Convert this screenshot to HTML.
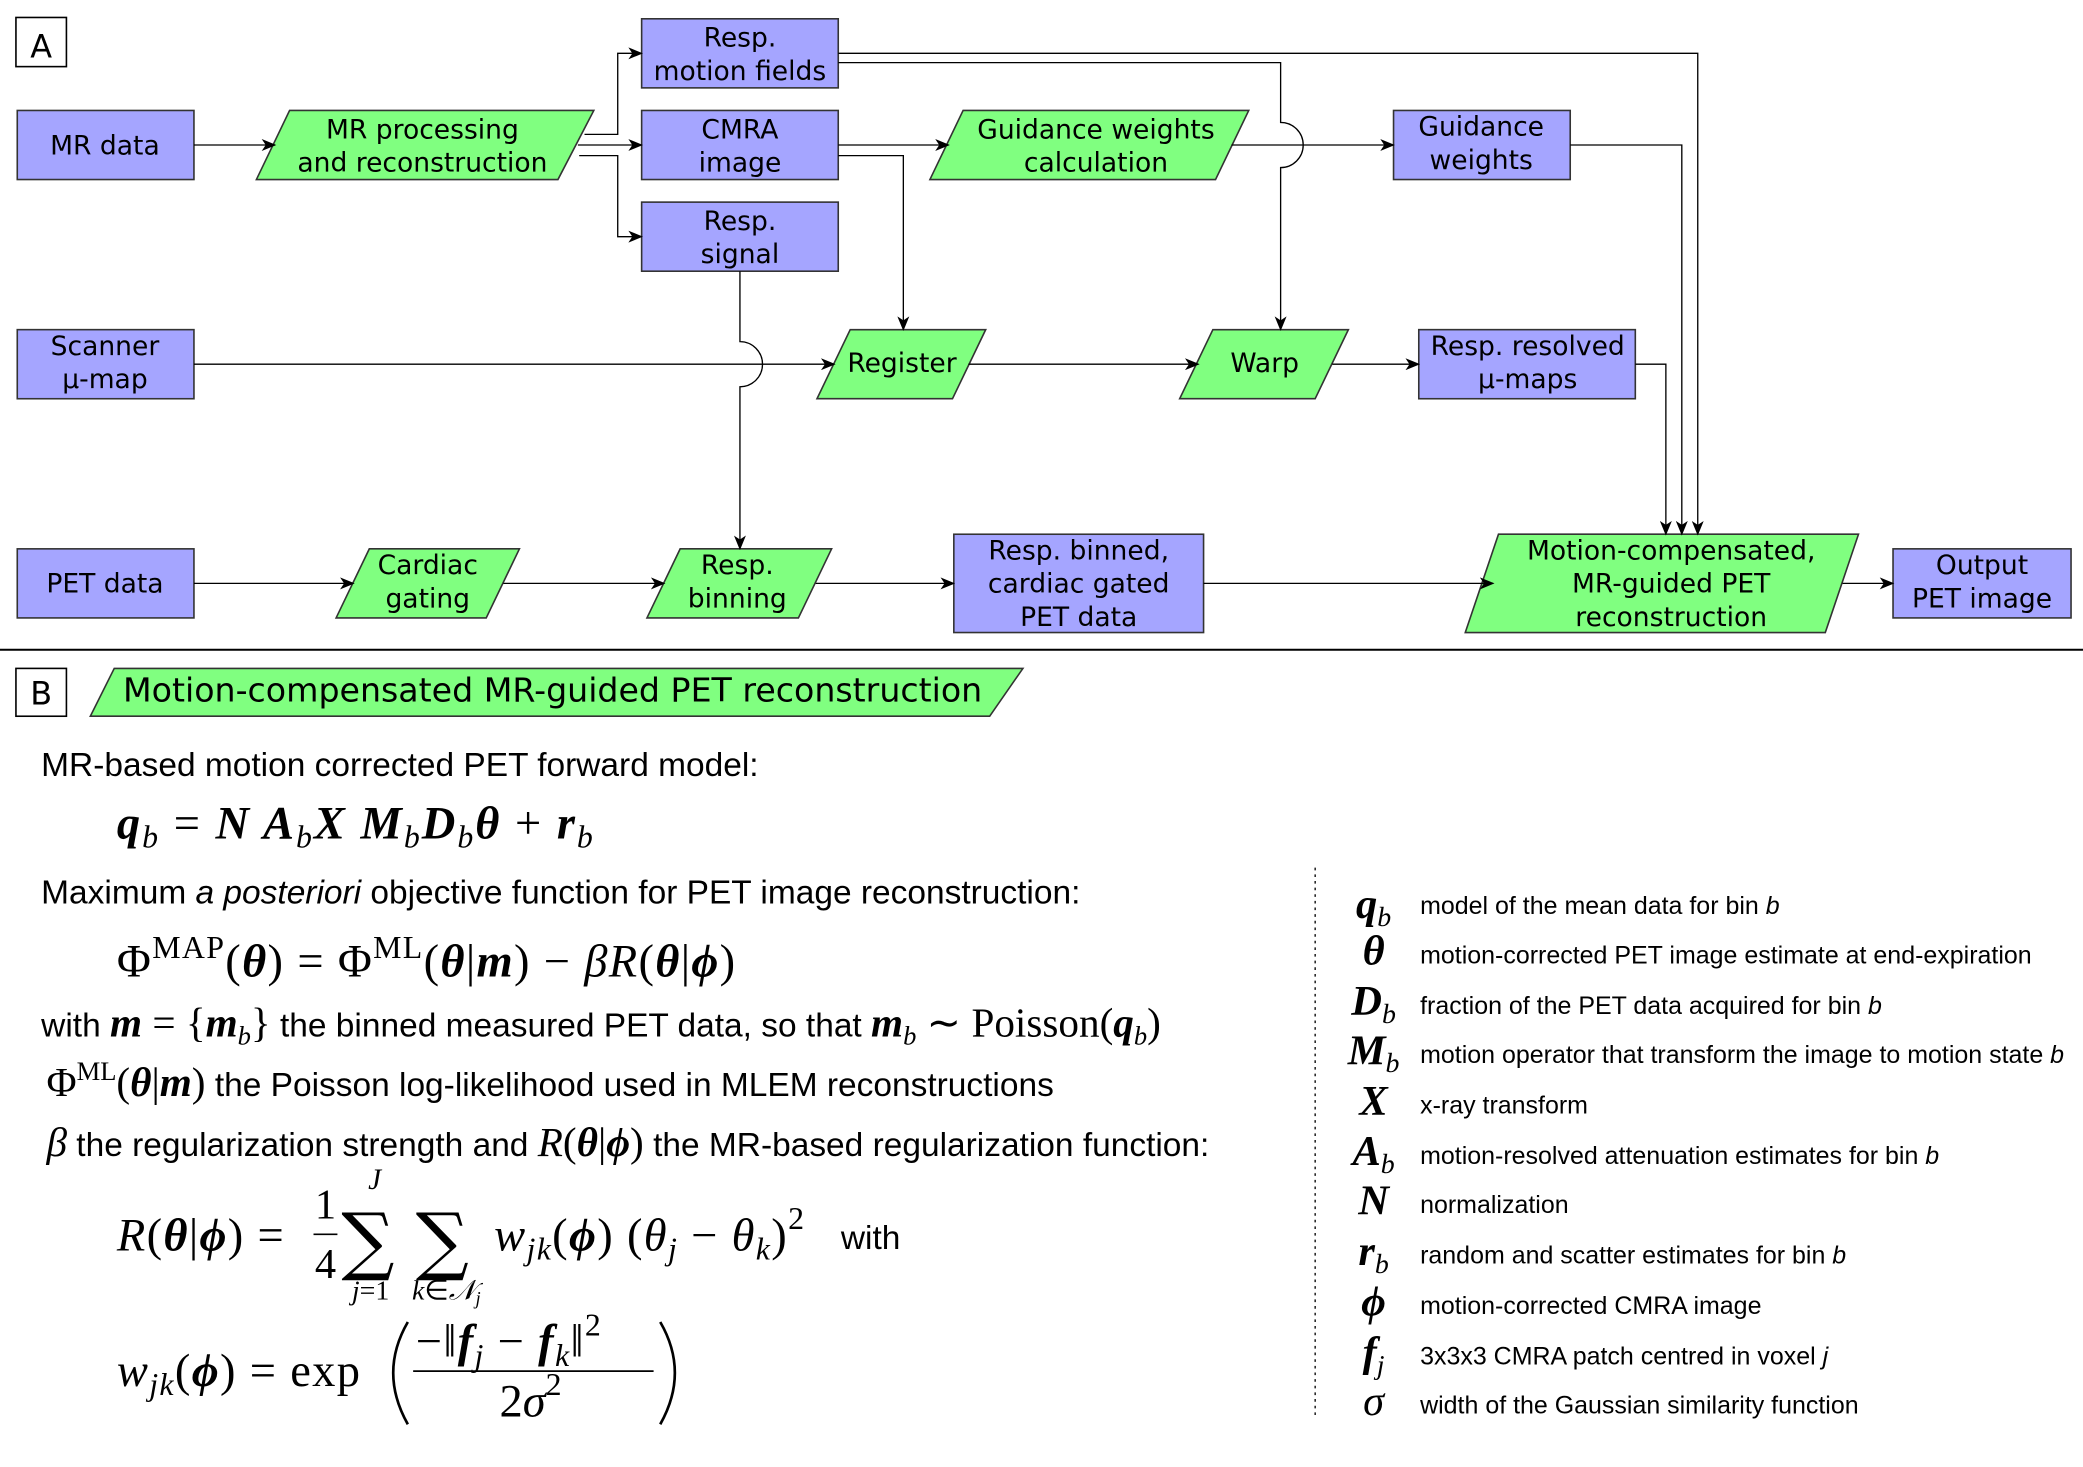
<!DOCTYPE html>
<html><head><meta charset="utf-8"><style>
html,body{margin:0;padding:0;background:#fff;}
svg{display:block}
.d{font-family:"DejaVu Sans",sans-serif;font-size:20px;fill:#000;text-anchor:middle}
.s{font-family:"Liberation Sans",sans-serif;font-size:25.2px;fill:#000}
.m{font-family:"Liberation Serif",serif;font-size:35px;fill:#000}
.bi{font-weight:bold;font-style:italic}
.it{font-style:italic}
.sub{font-size:24px}
.lg{font-family:"Liberation Sans",sans-serif;font-size:18.8px;fill:#000}
.ls{font-family:"Liberation Serif",serif;font-size:32px;font-weight:bold;font-style:italic;text-anchor:middle}
</style></head><body>
<svg width="2083" height="1467" viewBox="0 0 1568 1104" xmlns="http://www.w3.org/2000/svg">
<defs><marker id="a" markerWidth="11" markerHeight="9" refX="10" refY="4.5" orient="auto" markerUnits="userSpaceOnUse"><path d="M0,0 L11,4.5 L0,9 L3,4.5 z" fill="#000"/></marker></defs>
<g fill="#a5a5ff" stroke="#333" stroke-width="1.2">
<rect x="13" y="83" width="133" height="52"/>
<rect x="483" y="14" width="148" height="52"/>
<rect x="483" y="83" width="148" height="52"/>
<rect x="483" y="152" width="148" height="52"/>
<rect x="1049" y="83" width="133" height="52"/>
<rect x="13" y="248" width="133" height="52"/>
<rect x="1068" y="248" width="163" height="52"/>
<rect x="13" y="413" width="133" height="52"/>
<rect x="718" y="402" width="188" height="74"/>
<rect x="1425" y="413" width="134" height="52"/>
</g>
<g fill="#80ff80" stroke="#333" stroke-width="1.2">
<polygon points="193,135 218,83 447,83 420,135"/>
<polygon points="700,135 725,83 940,83 915,135"/>
<polygon points="615,300 640,248 742,248 717,300"/>
<polygon points="888,300 913,248 1015,248 990,300"/>
<polygon points="253,465 278,413 391,413 366,465"/>
<polygon points="487,465 512,413 626,413 601,465"/>
<polygon points="1103,476 1128,402 1399,402 1374,476"/>
<polygon points="68,539 86,503 770,503 745,539"/>
</g>
<g fill="#fff" stroke="#000" stroke-width="1.2"><rect x="12" y="13" width="38" height="37"/><rect x="12" y="503" width="38" height="36"/></g>
<text x="31" y="43" class="d" style="font-size:24px">A</text>
<text x="31" y="530" class="d" style="font-size:24px">B</text>
<line x1="0" y1="489" x2="1568" y2="489" stroke="#000" stroke-width="1.5"/>
<g fill="none" stroke="#000" stroke-width="1" marker-end="url(#a)">
<path d="M440,101 H465 V40 H483"/>
<path d="M146,109 H207"/>
<path d="M435,109 H483"/>
<path d="M436,117 H465 V178 H483"/>
<path d="M631,40 H1278 V402"/>
<path d="M631,47 H964 V92 A17,17 0 0 1 964,126 V248"/>
<path d="M631,109 H714"/>
<path d="M631,117 H680 V248"/>
<path d="M927,109 H1049"/>
<path d="M1182,109 H1266 V402"/>
<path d="M1231,274 H1254 V402"/>
<path d="M557,204 V257 A17,17 0 0 1 557,291 V413"/>
<path d="M146,274 H628"/>
<path d="M729,274 H902"/>
<path d="M1003,274 H1068"/>
<path d="M146,439 H266"/>
<path d="M379,439 H500"/>
<path d="M614,439 H718"/>
<path d="M906,439 H1124"/>
<path d="M1387,439 H1425"/>
</g>
<g class="d">
<text x="79" y="116">MR data</text>
<text x="318" y="104">MR processing</text><text x="318" y="129">and reconstruction</text>
<text x="557" y="35">Resp.</text><text x="557" y="60">motion fields</text>
<text x="557" y="104">CMRA</text><text x="557" y="129">image</text>
<text x="557" y="173">Resp.</text><text x="557" y="198">signal</text>
<text x="825" y="104">Guidance weights</text><text x="825" y="129">calculation</text>
<text x="1115" y="102">Guidance</text><text x="1115" y="127">weights</text>
<text x="79" y="267">Scanner</text><text x="79" y="292">μ-map</text>
<text x="679" y="280">Register</text>
<text x="952" y="280">Warp</text>
<text x="1150" y="267">Resp. resolved</text><text x="1150" y="292">μ-maps</text>
<text x="79" y="446">PET data</text>
<text x="322" y="432">Cardiac</text><text x="322" y="457">gating</text>
<text x="555" y="432">Resp.</text><text x="555" y="457">binning</text>
<text x="812" y="421">Resp. binned,</text><text x="812" y="446">cardiac gated</text><text x="812" y="471">PET data</text>
<text x="1258" y="421">Motion-compensated,</text><text x="1258" y="446">MR-guided PET</text><text x="1258" y="471">reconstruction</text>
<text x="1492" y="432">Output</text><text x="1492" y="457">PET image</text>
<text x="416" y="528" style="font-size:25px">Motion-compensated MR-guided PET reconstruction</text>
</g>
<text x="31" y="584" class="s">MR-based motion corrected PET forward model:</text>
<text x="88" y="631" class="m" style="letter-spacing:1.5px"><tspan class="bi">q</tspan><tspan class="it sub" dy="7">b</tspan><tspan dy="-7"> = </tspan><tspan class="bi">N A</tspan><tspan class="it sub" dy="7">b</tspan><tspan class="bi" dy="-7">X M</tspan><tspan class="it sub" dy="7">b</tspan><tspan class="bi" dy="-7">D</tspan><tspan class="it sub" dy="7">b</tspan><tspan class="bi" dy="-7">θ</tspan><tspan> + </tspan><tspan class="bi">r</tspan><tspan class="it sub" dy="7">b</tspan></text>
<text x="31" y="680" class="s">Maximum <tspan font-style="italic">a posteriori</tspan> objective function for PET image reconstruction:</text>
<text x="88" y="735" class="m" style="letter-spacing:1px">Φ<tspan class="sub" dy="-14">MAP</tspan><tspan dy="14">(</tspan><tspan class="bi">θ</tspan>) = Φ<tspan class="sub" dy="-14">ML</tspan><tspan dy="14">(</tspan><tspan class="bi">θ</tspan>|<tspan class="bi">m</tspan>) − <tspan class="it">βR</tspan>(<tspan class="bi">θ</tspan>|<tspan class="bi">ϕ</tspan>)</text>
<text x="31" y="780" class="s">with <tspan class="m bi" style="font-size:31px">m</tspan><tspan class="m" style="font-size:31px"> = {</tspan><tspan class="m bi" style="font-size:31px">m</tspan><tspan class="m it" style="font-size:20px" dy="6">b</tspan><tspan class="m" style="font-size:31px" dy="-6">}</tspan> the binned measured PET data, so that <tspan class="m bi" style="font-size:31px">m</tspan><tspan class="m it" style="font-size:20px" dy="6">b</tspan><tspan class="m" style="font-size:31px" dy="-6"> ∼ Poisson(</tspan><tspan class="m bi" style="font-size:31px">q</tspan><tspan class="m it" style="font-size:20px" dy="6">b</tspan><tspan class="m" style="font-size:31px" dy="-6">)</tspan></text>
<text x="35" y="825" class="s"><tspan class="m" style="font-size:31px">Φ</tspan><tspan class="m" style="font-size:20px" dy="-12">ML</tspan><tspan class="m" style="font-size:31px" dy="12">(</tspan><tspan class="m bi" style="font-size:31px">θ</tspan><tspan class="m" style="font-size:31px">|</tspan><tspan class="m bi" style="font-size:31px">m</tspan><tspan class="m" style="font-size:31px">)</tspan>   the Poisson log-likelihood used in MLEM reconstructions</text>
<text x="35" y="870" class="s"><tspan class="m it" style="font-size:31px">β</tspan> the regularization strength and <tspan class="m it" style="font-size:31px">R</tspan><tspan class="m" style="font-size:31px">(</tspan><tspan class="m bi" style="font-size:31px">θ</tspan><tspan class="m" style="font-size:31px">|</tspan><tspan class="m bi" style="font-size:31px">ϕ</tspan><tspan class="m" style="font-size:31px">)</tspan> the MR-based regularization function:</text>
<!-- R equation -->
<text x="88" y="941" class="m" style="letter-spacing:1px"><tspan class="it">R</tspan>(<tspan class="bi">θ</tspan>|<tspan class="bi">ϕ</tspan>) =</text>
<text x="245" y="917" class="m" text-anchor="middle" style="font-size:32px">1</text>
<line x1="236" y1="929" x2="254" y2="929" stroke="#000" stroke-width="1.3"/>
<text x="245" y="962" class="m" text-anchor="middle" style="font-size:32px">4</text>
<text x="257" y="953" class="m" style="font-family:'DejaVu Serif',serif;font-size:56px">∑</text>
<text x="313" y="953" class="m" style="font-family:'DejaVu Serif',serif;font-size:56px">∑</text>
<text x="282" y="895" class="m it" style="font-size:22px" text-anchor="middle">J</text>
<text x="279" y="978" class="m" style="font-size:21px" text-anchor="middle"><tspan class="it">j</tspan>=1</text>
<text x="336" y="978" class="m" style="font-size:21px" text-anchor="middle"><tspan class="it">k</tspan>∈<tspan class="it">𝒩</tspan><tspan class="it" style="font-size:14px" dy="4">j</tspan></text>
<text x="372" y="941" class="m" style="letter-spacing:1px"><tspan class="it">w</tspan><tspan class="it sub" dy="7">jk</tspan><tspan dy="-7">(</tspan><tspan class="bi">ϕ</tspan>) (<tspan class="it">θ</tspan><tspan class="it sub" dy="7">j</tspan><tspan dy="-7"> − </tspan><tspan class="it">θ</tspan><tspan class="it sub" dy="7">k</tspan><tspan dy="-7">)</tspan><tspan class="sub" dy="-16">2</tspan></text>
<text x="633" y="940" class="s">with</text>
<!-- w equation -->
<text x="88" y="1043" class="m" style="letter-spacing:1px"><tspan class="it">w</tspan><tspan class="it sub" dy="7">jk</tspan><tspan dy="-7">(</tspan><tspan class="bi">ϕ</tspan>) = exp</text>
<path d="M307,995 Q285,1033 307,1072" fill="none" stroke="#000" stroke-width="2"/>
<path d="M497,995 Q519,1033 497,1072" fill="none" stroke="#000" stroke-width="2"/>
<text x="313" y="1021" class="m" style="letter-spacing:1px">−‖<tspan class="bi">f</tspan><tspan class="it sub" dy="7">j</tspan><tspan dy="-7"> − </tspan><tspan class="bi">f</tspan><tspan class="it sub" dy="7">k</tspan><tspan dy="-7">‖</tspan><tspan class="sub" dy="-16">2</tspan></text>
<line x1="311" y1="1032" x2="492" y2="1032" stroke="#000" stroke-width="1.3"/>
<text x="376" y="1066" class="m">2<tspan class="it">σ</tspan><tspan class="sub" dy="-16">2</tspan></text>
<line x1="990" y1="653" x2="990" y2="1066" stroke="#000" stroke-width="1" stroke-dasharray="2,3"/>
<g class="ls">
<text x="1034" y="691">q<tspan style="font-size:21px;font-weight:normal" dy="6">b</tspan></text>
<text x="1034" y="726">θ</text>
<text x="1034" y="764">D<tspan style="font-size:21px;font-weight:normal" dy="6">b</tspan></text>
<text x="1034" y="801">M<tspan style="font-size:21px;font-weight:normal" dy="6">b</tspan></text>
<text x="1034" y="839">X</text>
<text x="1034" y="877">A<tspan style="font-size:21px;font-weight:normal" dy="6">b</tspan></text>
<text x="1034" y="914">N</text>
<text x="1034" y="952">r<tspan style="font-size:21px;font-weight:normal" dy="6">b</tspan></text>
<text x="1034" y="990">ϕ</text>
<text x="1034" y="1028">f<tspan style="font-size:21px;font-weight:normal" dy="6">j</tspan></text>
<text x="1034" y="1065" style="font-weight:normal">σ</text>
</g>
<g class="lg">
<text x="1069" y="688">model of the mean data for bin <tspan font-style="italic">b</tspan></text>
<text x="1069" y="725">motion-corrected PET image estimate at end-expiration</text>
<text x="1069" y="763">fraction of the PET data acquired for bin <tspan font-style="italic">b</tspan></text>
<text x="1069" y="800">motion operator that transform the image to motion state <tspan font-style="italic">b</tspan></text>
<text x="1069" y="838">x-ray transform</text>
<text x="1069" y="876">motion-resolved attenuation estimates for bin <tspan font-style="italic">b</tspan></text>
<text x="1069" y="913">normalization</text>
<text x="1069" y="951">random and scatter estimates for bin <tspan font-style="italic">b</tspan></text>
<text x="1069" y="989">motion-corrected CMRA image</text>
<text x="1069" y="1027">3x3x3 CMRA patch centred in voxel <tspan font-style="italic">j</tspan></text>
<text x="1069" y="1064">width of the Gaussian similarity function</text>
</g>
</svg>
</body></html>
